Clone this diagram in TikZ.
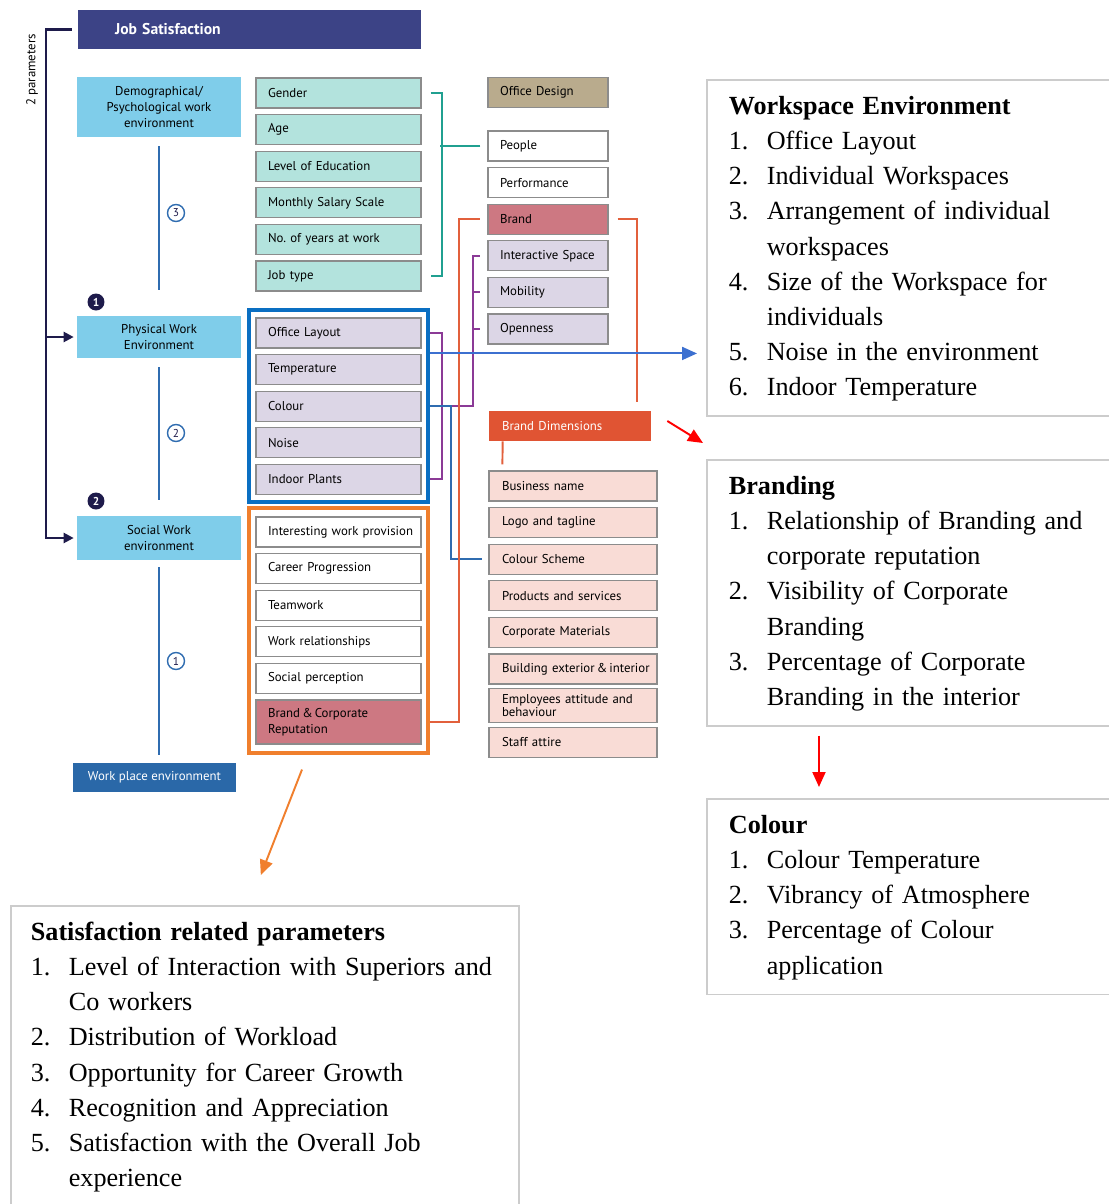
\documentclass[tikz,border=0pt]{standalone}
\usepackage{fontspec}
\setmainfont{Liberation Serif}
\setsansfont{PT Sans}
\usetikzlibrary{arrows, arrows.meta, positioning, fit, calc}

\definecolor{jobblue}{HTML}{3C4386}
\definecolor{envblue}{HTML}{7FCDEA}
\definecolor{wpblue}{HTML}{2A68A8}
\definecolor{stemblue}{HTML}{2F6CB0}
\definecolor{darknavy}{HTML}{1E1B4B}
\definecolor{tealfill}{HTML}{B3E3DD}
\definecolor{tealwire}{HTML}{20A090}
\definecolor{lavender}{HTML}{DCD6E6}
\definecolor{rosefill}{HTML}{CD7882}
\definecolor{deskfill}{HTML}{B9AB8D}
\definecolor{blush}{HTML}{F9DCD6}
\definecolor{dimred}{HTML}{E05433}
\definecolor{physblue}{HTML}{0A6FC2}
\definecolor{socorange}{HTML}{F07F2D}
\definecolor{purplewire}{HTML}{8B3A96}
\definecolor{brandwire}{HTML}{E2603C}
\definecolor{arrowblue}{HTML}{3C70D0}
\definecolor{boxgray}{HTML}{8C8C8C}
\definecolor{listgray}{HTML}{CCCCCC}

\begin{document}
\begin{tikzpicture}[x=0.02cm,y=-0.02cm,>=stealth',node distance=0.732cm,
  font=\sffamily\fontsize{7.3}{9.1}\selectfont\frenchspacing,
  jobbox/.style={fill=jobblue,text=white,font=\sffamily\bfseries\fontsize{8.9}{10}\selectfont,
    minimum height=0.78cm,inner xsep=0.74cm,text width=5.38cm,align=left},
  env/.style={fill=envblue,minimum width=3.28cm,minimum height=0.84cm,align=center},
  wpbox/.style={fill=wpblue,text=white,minimum width=3.26cm,minimum height=0.58cm},
  item/.style={draw=boxgray,line width=0.7pt,minimum height=0.6cm,inner xsep=0.24cm,
    text width=2.82cm,align=left},
  teal item/.style={item,fill=tealfill},
  phys item/.style={item,fill=lavender},
  soc item/.style={item,fill=white},
  desk item/.style={item,text width=1.92cm},
  dim item/.style={item,fill=blush,inner xsep=0.26cm,text width=2.84cm},
  dimbox/.style={fill=dimred,text=white,minimum height=0.6cm,inner xsep=0.26cm,
    text width=2.72cm,align=left},
  ringnum/.style={circle,draw=stemblue,line width=0.8pt,fill=white,inner sep=0pt,
    minimum size=0.34cm,text=darknavy,font=\sffamily\fontsize{6.5}{7}\selectfont},
  dotnum/.style={circle,fill=darknavy,inner sep=0pt,minimum size=0.34cm,text=white,
    font=\sffamily\bfseries\fontsize{6.5}{7}\selectfont},
  frame/.style={draw=#1,line width=2.2pt,inner xsep=0.12cm,inner ysep=0.14cm},
  listbox/.style={draw=listgray,line width=1pt,anchor=north west,inner xsep=0.44cm,
    inner ysep=0.2cm,align=left,text width=7.6cm,font=\rmfamily\fontsize{14.9}{20}\selectfont},
  navywire/.style={draw=darknavy,line width=1.3pt},
  stem/.style={draw=stemblue,line width=1.3pt},
  wire/.style={draw=#1,line width=1.1pt},
  bigtip/.style={-{Triangle[length=0.3cm,width=0.26cm]}},
  smalltip/.style={-{Triangle[length=0.2cm,width=0.2cm]}}]

  \useasboundingbox (0,0) rectangle (1109,1204);
  \clip (0,0) rectangle (1109,1204);

  \node[jobbox] (job) at (249.5,29.5) {Job Satisfaction};
  \node[rotate=90] (params) at (32,70) {2 parameters};

  \node[env,minimum height=1.2cm] (demo) at (159,107) {Demographical/\\Psychological work\\environment};
  \node[env] (physical) at (159,337) {Physical Work\\Environment};
  \node[env,minimum height=0.88cm] (social) at (159,538) {Social Work\\environment};
  \node[wpbox] (workplace) at (154.5,777.5) {Work place environment};

  \node[ringnum] (n3) at (176,213) {3};
  \node[ringnum] (n2) at (176,433) {2};
  \node[ringnum] (n1) at (176,661) {1};
  \node[dotnum] (d1) at (96,302) {1};
  \node[dotnum] (d2) at (96,501) {2};

  \node[teal item] (gender) at (338.5,93) {Gender};
  \node[teal item] (age) [below of=gender] {Age};
  \node[teal item] (education) [below of=age] {Level of Education};
  \node[teal item] (salary) [below of=education] {Monthly Salary Scale};
  \node[teal item] (years) [below of=salary] {No. of years at work};
  \node[teal item] (jobtype) [below of=years] {Job type};

  \node[phys item] (layout) at (338.5,333) {Office Layout};
  \node[phys item] (temperature) [below of=layout] {Temperature};
  \node[phys item] (colour) [below of=temperature] {Colour};
  \node[phys item] (noise) [below of=colour] {Noise};
  \node[phys item] (plants) [below of=noise] {Indoor Plants};
  \node[frame=physblue,fit=(layout)(plants)] (physbox) {};

  \node[soc item] (interest) at (338.5,532) {\mbox{Interesting work provision}};
  \node[soc item] (career) [below of=interest] {Career Progression};
  \node[soc item] (teamwork) [below of=career] {Teamwork};
  \node[soc item] (relations) [below of=teamwork] {Work relationships};
  \node[soc item] (perception) [below of=relations] {Social perception};
  \node[item,fill=rosefill,minimum height=0.88cm] (reputation) at (338.5,722) {Brand\,\&\,Corporate\\Reputation};
  \node[frame=socorange,fit=(interest)(reputation),inner ysep=0.16cm] (socbox) {};

  \node[desk item,fill=deskfill] (design) at (548,92.5) {Office Design};
  \node[desk item,fill=white] (people) at (548,146) {People};
  \node[desk item,fill=white] (performance) [below of=people] {Performance};
  \node[desk item,fill=rosefill] (brand) [below of=performance] {Brand};
  \node[desk item,fill=lavender] (inter) [below of=brand] {\mbox{Interactive Space}};
  \node[desk item,fill=lavender] (mobility) [below of=inter] {Mobility};
  \node[desk item,fill=lavender] (openness) [below of=mobility] {Openness};

  \node[dimbox] (dim) at (570,426) {Brand Dimensions};
  \node[dim item] (business) at (573,486) {Business name};
  \node[dim item] (logo) [below of=business] {Logo and tagline};
  \node[dim item] (scheme) [below of=logo] {Colour Scheme};
  \node[dim item] (products) [below of=scheme] {Products and services};
  \node[dim item] (materials) [below of=products] {Corporate Materials};
  \node[dim item] (building) [below of=materials] {\mbox{Building exterior\,\&\,interior}};
  \node[dim item,font=\sffamily\fontsize{7.3}{7.4}\selectfont] (attitude) [below of=building] {Employees attitude and\\behaviour};
  \node[dim item] (attire) [below of=attitude] {Staff attire};

  \node[listbox] (ws) at (706,79) {\begin{tabular}{@{}p{21.6pt}@{}l@{}}
    \multicolumn{2}{@{}l@{}}{\textbf{Workspace Environment}}\\
    1. & Office Layout\\
    2. & Individual Workspaces\\
    3. & Arrangement of individual\\
       & workspaces\\
    4. & Size of the Workspace for\\
       & individuals\\
    5. & Noise in the environment\\
    6. & Indoor Temperature
  \end{tabular}};
  \node[listbox] (br) at (706,459) {\begin{tabular}{@{}p{21.6pt}@{}l@{}}
    \multicolumn{2}{@{}l@{}}{\textbf{Branding}}\\
    1. & Relationship of Branding and\\
       & corporate reputation\\
    2. & Visibility of Corporate\\
       & Branding\\
    3. & Percentage of Corporate\\
       & Branding in the interior
  \end{tabular}};
  \node[listbox] (col) at (706,798) {\begin{tabular}{@{}p{21.6pt}@{}l@{}}
    \multicolumn{2}{@{}l@{}}{\textbf{Colour}}\\
    1. & Colour Temperature\\
    2. & Vibrancy of Atmosphere\\
    3. & Percentage of Colour\\
       & application
  \end{tabular}};
  \node[listbox,inner xsep=0.4cm,text width=9.36cm] (sat) at (10,905) {\begin{tabular}{@{}p{21.6pt}@{}l@{}}
    \multicolumn{2}{@{}l@{}}{\textbf{Satisfaction related parameters}}\\
    1. & Level of Interaction with Superiors and\\
       & Co workers\\
    2. & Distribution of Workload\\
    3. & Opportunity for Career Growth\\
    4. & Recognition and Appreciation\\
    5. & Satisfaction with the Overall Job\\
       & experience
  \end{tabular}};

  % two parameters bracket
  \draw[navywire,smalltip] ([xshift=-0.12cm]job.west) -- ++(-26,0) coordinate (bk) |- ([xshift=-0.06cm]social.west);
  \draw[navywire,smalltip] (bk |- physical.west) -- ([xshift=-0.06cm]physical.west);

  \draw[stem] ([yshift=-0.18cm]demo.south) -- ([yshift=0.52cm]physical.north);
  \draw[stem] ([yshift=-0.18cm]physical.south) -- ([yshift=0.32cm]social.north);
  \draw[stem] ([yshift=-0.14cm]social.south) -- ($(social.south |- workplace.north)+(0,-8)$);

  \draw[wire=tealwire] ([xshift=0.18cm]gender.east) -- ++(11,0) |- ([xshift=0.18cm]jobtype.east);
  \draw[wire=tealwire] ([xshift=-0.14cm]people.west) -- ++(-40,0);

  \draw[wire=purplewire] ([xshift=0.16cm]layout.east) -- ++(12,0) |- ([xshift=0.16cm]plants.east);
  \draw[wire=purplewire] ($(layout.east)!0.5!(plants.east)+(20,0)$) -- ++(31,0) coordinate (pj)
    |- ([xshift=-0.14cm]inter.west);
  \draw[wire=purplewire] (pj |- mobility.west) -- ([xshift=-0.14cm]mobility.west);
  \draw[wire=purplewire] (pj |- openness.west) -- ([xshift=-0.14cm]openness.west);

  \draw[wire=stemblue] (colour.east -| physbox.east) -- ++(21,0) |- ([xshift=-0.12cm]scheme.west);

  \draw[wire=brandwire] (reputation.east -| socbox.east) -- ++(29,0) |- ([xshift=-0.14cm]brand.west);
  \draw[wire=brandwire] ([xshift=0.18cm]brand.east) -- ++(19,0) coordinate (bt)
    -- ($(bt |- dim.north)+(0,-9)$);
  \draw[wire=brandwire] ([xshift=0.28cm]dim.south west) -- ([xshift=0.28cm,yshift=0.12cm]business.north west);

  \draw[wire=arrowblue,bigtip,shorten >=0.18cm] ([yshift=-0.9cm]physbox.north east) coordinate (wa) -- (wa -| ws.west);
  \draw[wire=socorange,bigtip] ([xshift=-0.73cm,yshift=-0.3cm]socbox.south) -- ([xshift=-0.08cm,yshift=0.6cm]sat.north);
  \draw[wire=red,bigtip] ([xshift=0.32cm,yshift=0.1cm]dim.east) -- ([xshift=-0.06cm,yshift=0.32cm]br.north west);
  \draw[wire=red,bigtip] ([xshift=2.26cm,yshift=-0.18cm]br.south west) -- ([xshift=2.26cm,yshift=0.22cm]col.north west);
\end{tikzpicture}
\end{document}
